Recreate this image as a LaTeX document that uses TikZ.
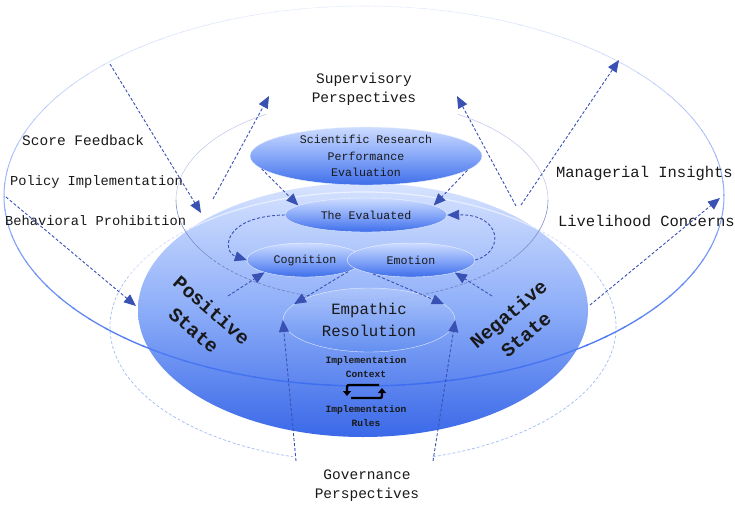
\documentclass[tikz,border=0pt]{standalone}
\usepackage{fontspec}
\setmainfont{Liberation Mono}
\usepackage{tikz}
\usetikzlibrary{shapes.geometric, arrows.meta, positioning}

\definecolor{ring}{RGB}{55,105,240}
\definecolor{flowblue}{RGB}{22,50,165}
\definecolor{paleblue}{RGB}{205,220,255}
\definecolor{deepblue}{RGB}{62,110,234}
\definecolor{ink}{RGB}{25,25,25}

\begin{document}
\begin{tikzpicture}[
  x=1pt, y=-1pt,
  every node/.style={text=ink, align=center, inner sep=0pt},
  bubble/.style={ellipse, draw=white!60!paleblue, line width=0.4pt, top color=paleblue, bottom color=deepblue,
    middle color={rgb,255:red,135;green,168;blue,248}},
  flow/.style={draw=flowblue!85, line width=0.9pt, dash pattern=on 3pt off 2pt, -{Triangle[length=12pt, width=10pt]}},
  sidelabel/.style={font=\fontsize{14.5}{19}\selectfont},
  bubbletext/.style={font=\fontsize{11.6}{16.5}\selectfont},
  smalltext/.style={font=\bfseries\fontsize{9.6}{13.5}\selectfont},
  statetext/.style={font=\bfseries\fontsize{19.5}{27}\selectfont},
  loopline/.style={draw=black, line width=2.4pt, rounded corners=2pt, -{Triangle[length=5pt, width=8pt]}}
  ]
\useasboundingbox (0,0) rectangle (735,506);

% 바깥 점선 타원
\draw[ring!45, line width=0.7pt, dash pattern=on 3pt off 2pt] (363,327) ++(286:253pt and 135pt)
  arc[start angle=286, end angle=614, x radius=253pt, y radius=135pt];

% 큰 바탕 타원
\node[ellipse, minimum width=450pt, minimum height=254pt, top color=paleblue!80!white,
  bottom color={rgb,255:red,58;green,104;blue,232}, middle color={rgb,255:red,140;green,173;blue,248}] (base) at (363,310) {};
\draw[white, opacity=.55, line width=1.2pt] (363,327) ++(22:253pt and 135pt)
  arc[start angle=22, end angle=158, x radius=253pt, y radius=135pt];

% 가운데 타원
\draw[flowblue!25, line width=0.6pt] (362,200) ++(0:186pt and 100pt) arc[start angle=0, end angle=59, x radius=186pt, y radius=100pt];
\draw[flowblue!25, line width=0.6pt] (362,200) ++(121:186pt and 100pt) arc[start angle=121, end angle=180, x radius=186pt, y radius=100pt];
\draw[flowblue!55, line width=0.6pt] (362,200) ++(180:186pt and 100pt) arc[start angle=180, end angle=215, x radius=186pt, y radius=100pt];
\draw[flowblue!60, line width=0.7pt, dash pattern=on 3pt off 2pt] (362,200) ++(215:186pt and 100pt) arc[start angle=215, end angle=325, x radius=186pt, y radius=100pt];
\draw[flowblue!55, line width=0.6pt] (362,200) ++(325:186pt and 100pt) arc[start angle=325, end angle=360, x radius=186pt, y radius=100pt];

% 타원 노드
\node[bubble, minimum width=232pt, minimum height=58pt] (srpe) at (366,156) {};
\node[bubbletext] (srpelabel) at (srpe) {Scientific Research\\Performance\\Evaluation};
\node[bubble, bubbletext, minimum width=162pt, minimum height=34pt] (evaluated) at (366,215) {The Evaluated};
\node[bubble, bubbletext, minimum width=116pt, minimum height=34pt] (cognition) at (305,260) {Cognition};
\node[bubble, bubbletext, minimum width=128pt, minimum height=34pt] (emotion) at (411,260) {Emotion};
\node[ellipse, draw=white!50!paleblue, line width=0.4pt, fill opacity=.85, text opacity=1,
  top color={rgb,255:red,178;green,200;blue,252}, bottom color={rgb,255:red,98;green,142;blue,240},
  minimum width=172pt, minimum height=64pt, font=\fontsize{15.7}{22}\selectfont] (empathic) at (369,320) {Empathic\\Resolution};

% 바깥 고리
\foreach \a in {0,4,...,356}{
  \pgfmathtruncatemacro\k{55-42*sin(\a)}
  \pgfmathsetmacro\w{1.0-0.45*sin(\a)}
  \draw[ring!\k, line width=\w pt] (364,196) ++(\a:360pt and 190pt)
    arc[start angle=\a, delta angle=4.5, x radius=360pt, y radius=190pt];
}

% 글자
\node[sidelabel] (supervisory) at (364,89) {Supervisory\\Perspectives};
\node[sidelabel] (governance) at (367,486) {Governance\\Perspectives};
\node[sidelabel, anchor=west] (feedback) at (22,140) {Score Feedback};
\node[sidelabel, anchor=west, font=\fontsize{13.7}{16}\selectfont] (policy) at (10,182) {Policy Implementation};
\node[sidelabel, anchor=west, font=\fontsize{13.7}{16}\selectfont] (prohibition) at (5,221) {Behavioral Prohibition};
\node[sidelabel, anchor=east, font=\fontsize{15.5}{18}\selectfont] (insights) at (733,173) {Managerial Insights};
\node[sidelabel, anchor=east, font=\fontsize{15.5}{18}\selectfont] (livelihood) at (735,221) {Livelihood Concerns};
\node[statetext, rotate=-41] (positive) at (203,320) {Positive\\State};
\node[statetext, rotate=40] (negative) at (517,324) {Negative\\State};
\node[smalltext] (context) at (366,367) {Implementation\\Context};
\node[smalltext] (rules) at (366,416) {Implementation\\Rules};

% 순환 표시
\draw[loopline] (379,385) -| (347,396);
\draw[loopline] (351,398) -| (382,388);

% 화살표
\coordinate (fbfrom) at (110,64);
\coordinate (fbto) at (201,213);
\coordinate (bpfrom) at (6,197);
\coordinate (bpto) at (136,306);
\coordinate (svlfrom) at (213,199);
\coordinate (svlto) at (269,96);
\coordinate (svrfrom) at (516,206);
\coordinate (svrto) at (457,96);
\coordinate (mifrom) at (521,205);
\coordinate (mito) at (619,60);
\coordinate (lcfrom) at (590,305);
\coordinate (lcto) at (720,198);
\coordinate (posfrom) at (228,296);
\coordinate (negfrom) at (492,296);
\coordinate (gvlfrom) at (296,461);
\coordinate (gvrfrom) at (433,461);

\draw[flow] (fbfrom) -- (fbto);
\draw[flow] (bpfrom) -- (bpto);
\draw[flow] (svlfrom) -- (svlto);
\draw[flow] (svrfrom) -- (svrto);
\draw[flow] (mifrom) -- (mito);
\draw[flow] (lcfrom) -- (lcto);
\draw[flow] (srpe.187) -- (evaluated.172);
\draw[flow] (srpe.352) -- (evaluated.8);
\draw[flow] (evaluated.west) .. controls (222,216) and (222,252) .. (cognition.west);
\draw[flow] (emotion.east) .. controls (505,252) and (502,214) .. (evaluated.east);
\draw[flow] (posfrom) -- (cognition.197);
\draw[flow] (negfrom) -- (emotion.344);
\draw[flow] (cognition.345) -- (empathic.168);
\draw[flow] (emotion.200) -- (empathic.12);
\draw[flow] (gvlfrom) -- (empathic.west);
\draw[flow] (gvrfrom) -- (empathic.east);

\end{tikzpicture}
\end{document}
